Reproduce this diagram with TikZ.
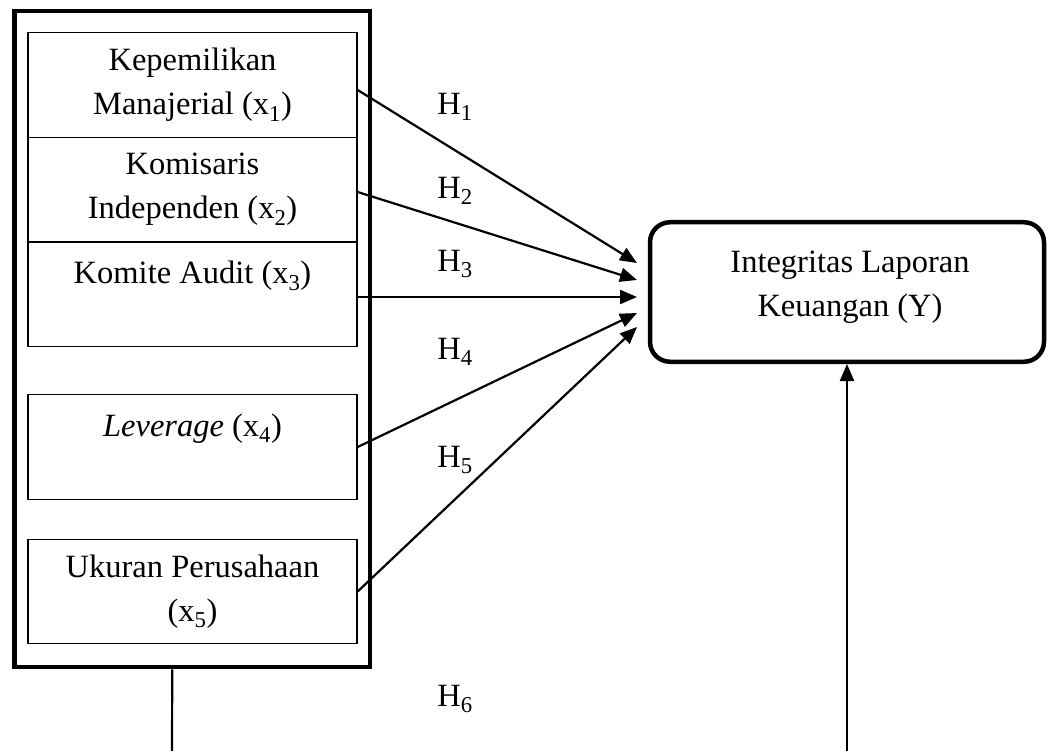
\documentclass[tikz,border=0pt]{standalone}
\usepackage{fontspec}
\setmainfont{Liberation Serif}
\usetikzlibrary{arrows.meta}
\begin{document}
\begin{tikzpicture}[x=1pt,y=-1pt,
  every node/.style={font=\fontsize{32.5}{44}\selectfont},
  var/.style={draw,line width=1.3pt,minimum width=329pt,minimum height=104.5pt,align=center,inner sep=0pt},
  grp/.style={draw,line width=4.5pt,minimum width=355.5pt,minimum height=656pt},
  dep/.style={draw,line width=4.5pt,rounded corners=20pt,minimum width=394pt,minimum height=139.5pt},
  hyp/.style={inner sep=0pt},
  arr/.style={line width=2.2pt,-{Triangle[length=17pt,width=14pt]}}]
\useasboundingbox (0,0) rectangle (1048,751);
\node[grp] (grp) at (192.25,339) {};
\node[var] (x1) at (192.5,85) {Kepemilikan\\Manajerial (x\textsubscript{1})};
\node[var] (x2) at (192.5,189.5) {Komisaris\\Independen (x\textsubscript{2})};
\node[var] (x3) at (192.5,294.5) {Komite Audit (x\textsubscript{3})\\\mbox{}};
\node[var] (x4) at (192.5,447) {\textit{Leverage} (x\textsubscript{4})\\\mbox{}};
\node[var] (x5) at (192.5,591.5) {Ukuran Perusahaan\\(x\textsubscript{5})};
\node[dep] (dep) at (847,292) {};
\node[align=center,inner sep=0pt] (ytxt) at (850,287) {Integritas Laporan\\Keuangan (Y)};
\node[hyp] (h1) at (455,107) {H\textsubscript{1}};
\node[hyp] (h2) at (455,191) {H\textsubscript{2}};
\node[hyp] (h3) at (455,264) {H\textsubscript{3}};
\node[hyp] (h4) at (455,352) {H\textsubscript{4}};
\node[hyp] (h5) at (455,460) {H\textsubscript{5}};
\node[hyp] (h6) at (455,699) {H\textsubscript{6}};
\coordinate (t1) at (637,263);
\coordinate (t2) at (637,280);
\coordinate (t3) at (637,297);
\coordinate (t4) at (637,313);
\coordinate (t5) at (637,327);
\coordinate (b6) at (172,751);
\coordinate (by) at (dep.south |- b6);
\draw[arr] ([yshift=-5pt]x1.east) -- (t1);
\draw[arr] ([yshift=-2.5pt]x2.east) -- (t2);
\draw[arr] ([yshift=-2.5pt]x3.east) -- (t3);
\draw[arr] (x4.east) -- (t4);
\draw[arr] (x5.east) -- (t5);
\draw[line width=2.2pt] ([xshift=-20pt]grp.south) -- (b6);
\draw[arr] (by) -- (dep.south);
\end{tikzpicture}
\end{document}
